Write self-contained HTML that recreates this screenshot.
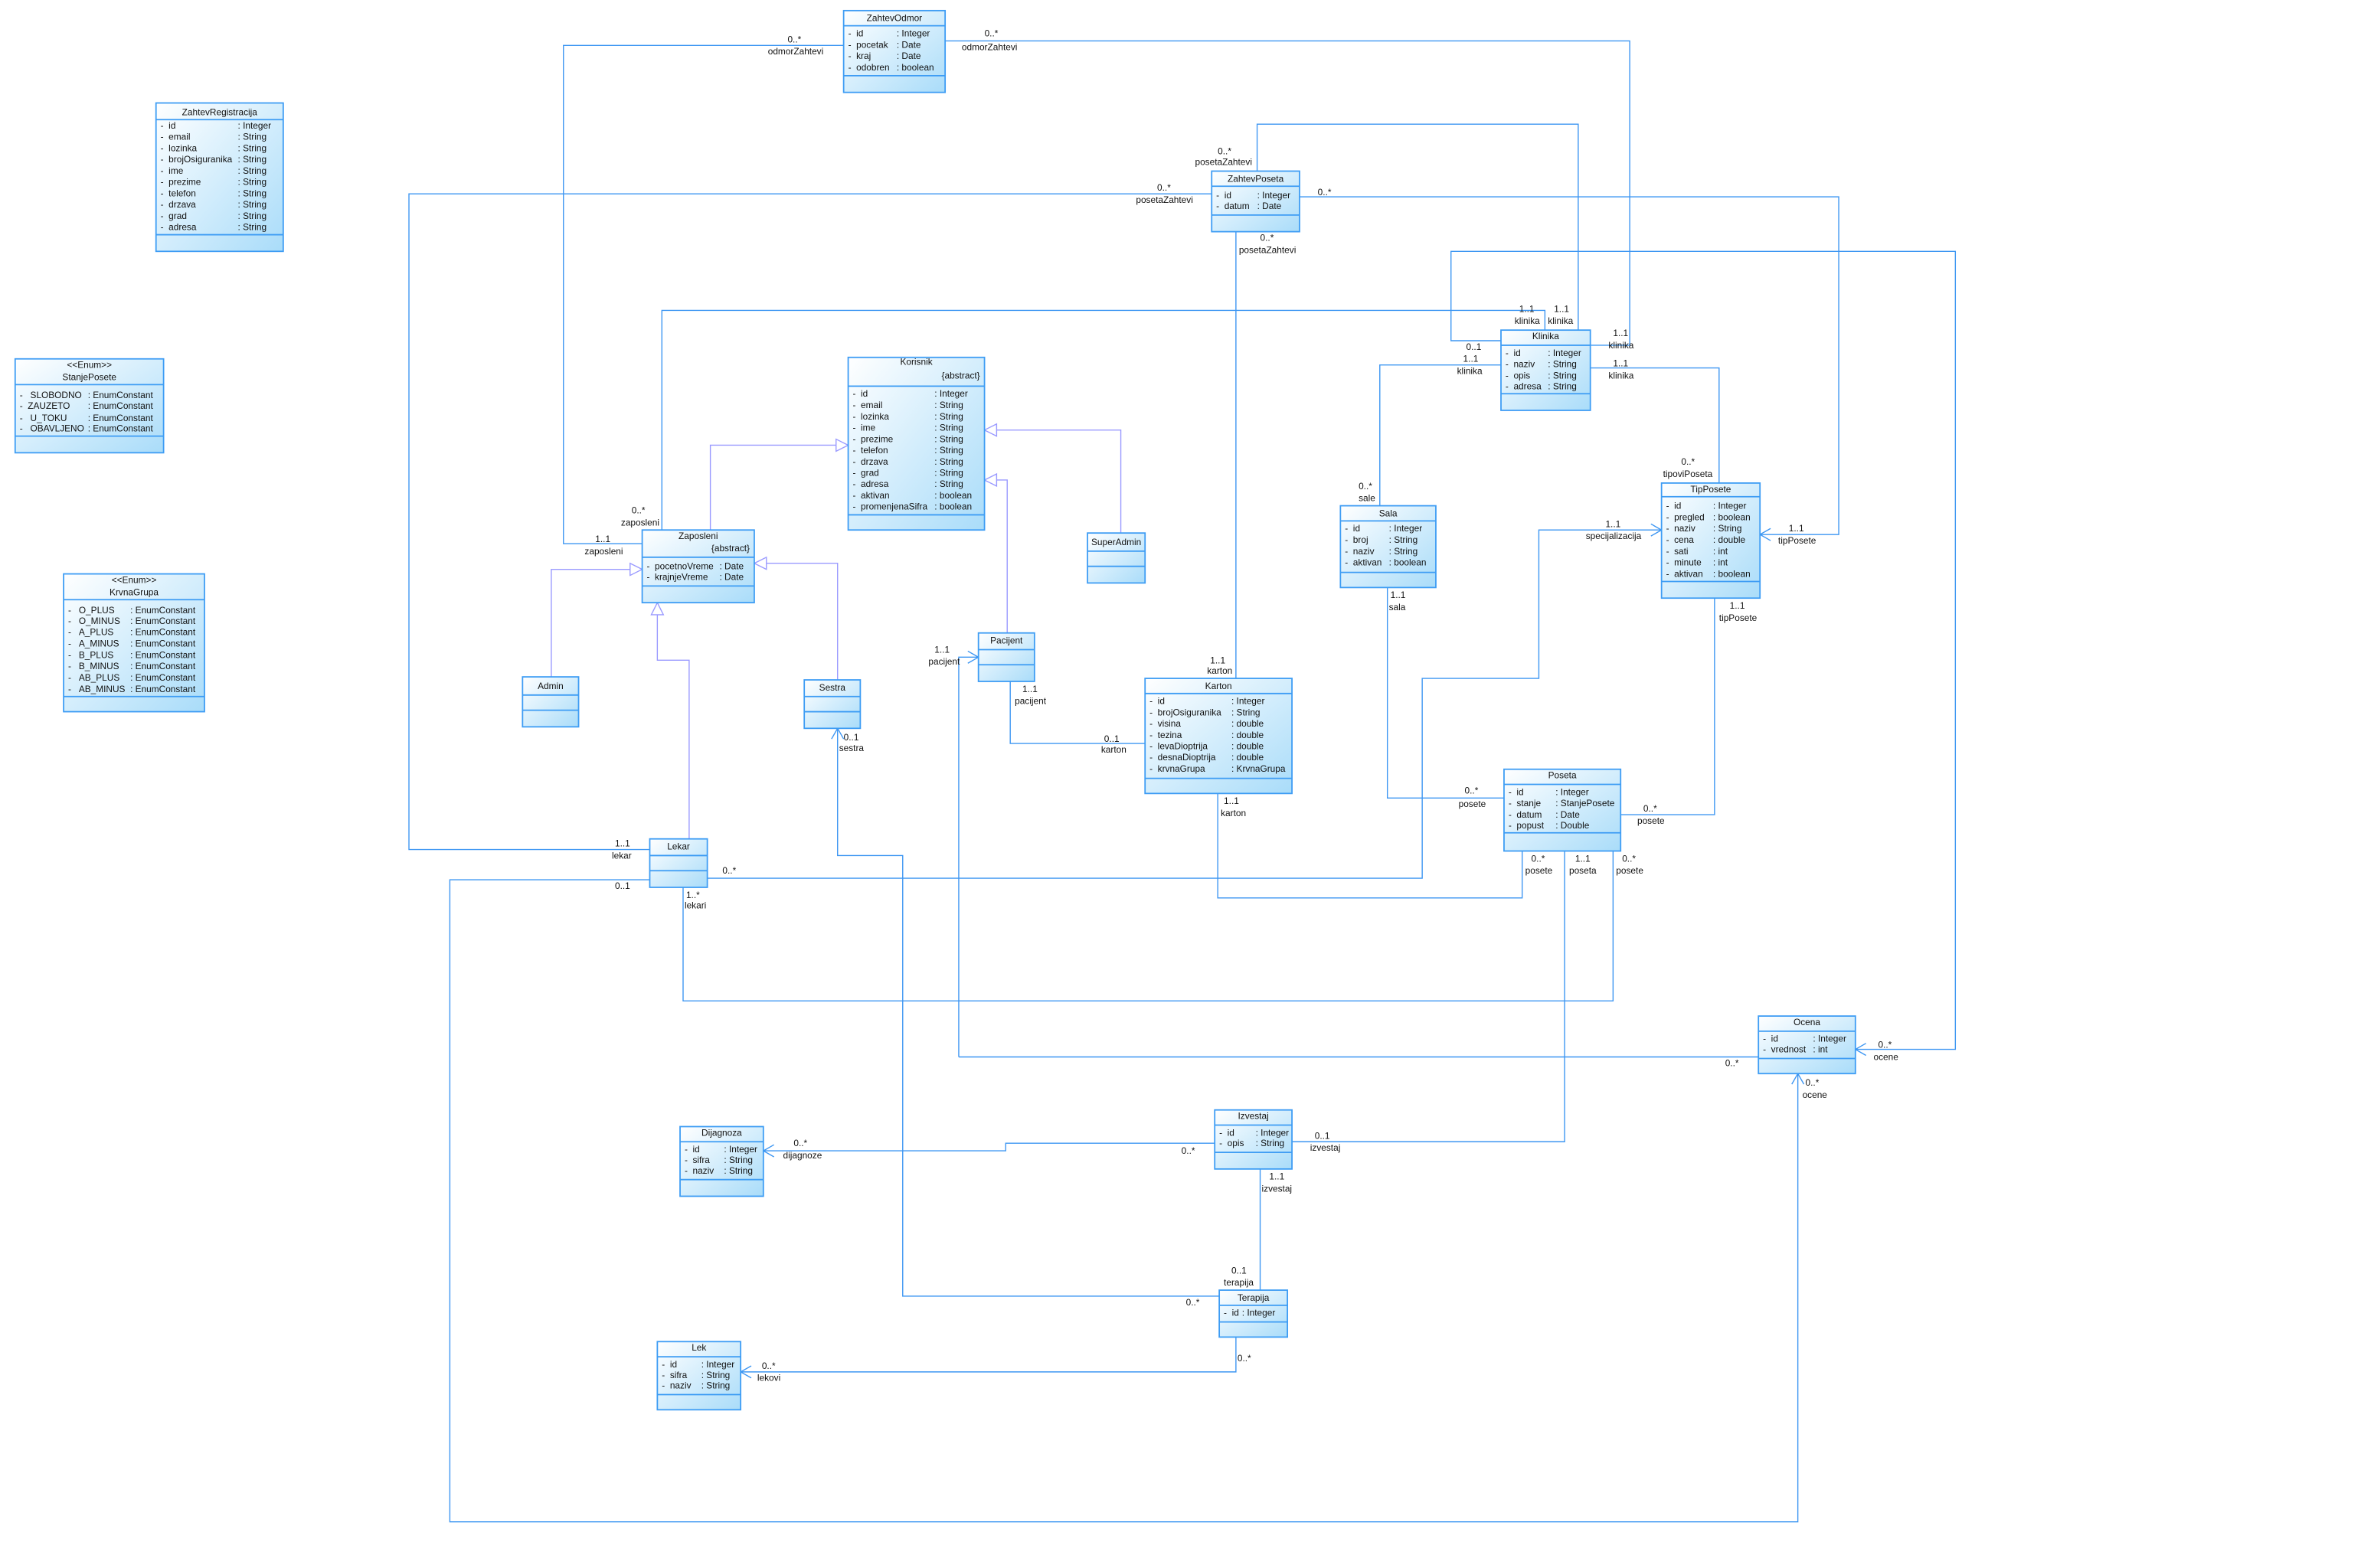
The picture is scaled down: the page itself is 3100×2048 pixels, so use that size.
<!DOCTYPE html>
<html><head><meta charset="utf-8"><style>
html,body{margin:0;padding:0;background:#fff;}
svg{display:block;}
text{font-family:"Liberation Sans",sans-serif;font-size:6px;fill:#111;}
.t{text-anchor:middle;}
.c rect{fill:url(#g);stroke:#3d9cf4;stroke-width:0.9;}
.c line{stroke:#3d9cf4;stroke-width:0.9;}
.a{fill:none;stroke:#3d96f2;stroke-width:0.7;}
.gn{fill:none;stroke:#9a9aff;stroke-width:0.7;}
.tri{fill:#fff;stroke:#9a9aff;stroke-width:0.7;}
.ar{fill:none;stroke:#3d96f2;stroke-width:0.7;}
</style></head><body>
<svg width="3100" height="2048" viewBox="0 0 1567.4 1035.5" preserveAspectRatio="none" xmlns="http://www.w3.org/2000/svg">
<defs><linearGradient id="g" x1="0" y1="0" x2="1" y2="1"><stop offset="0" stop-color="#ffffff"/><stop offset="1" stop-color="#a9dcf9"/></linearGradient></defs>

<polyline class="gn" points="469,350 469,294 560,294"/><polygon class="tri" points="560,294 552,290 552,298"/>
<polyline class="gn" points="740,352 740,284 650,284"/><polygon class="tri" points="650,284 658,280 658,288"/>
<polyline class="gn" points="665,418 665,317 650,317"/><polygon class="tri" points="650,317 658,313 658,321"/>
<polyline class="gn" points="364,447 364,376 424,376"/><polygon class="tri" points="424,376 416,372 416,380"/>
<polyline class="gn" points="553,449 553,372 498,372"/><polygon class="tri" points="498,372 506,368 506,376"/>
<polyline class="gn" points="455,554 455,436 434,436 434,398"/><polygon class="tri" points="434,398 430,406 438,406"/>

<polyline class="a" points="557,30 372,30 372,359 424,359"/>
<polyline class="a" points="624,27 1076,27 1076,228 1050,228"/>
<polyline class="a" points="437,350 437,205 1020,205 1020,218"/>
<polyline class="a" points="830,113 830,82 1042,82 1042,218"/>
<polyline class="a" points="800,128 270,128 270,561 429,561"/>
<polyline class="a" points="858,130 1214,130 1214,353 1162,353"/><polyline class="ar" points="1169,349 1162,353 1169,357"/>
<polyline class="a" points="816,153 816,448"/>
<polyline class="a" points="991,225 958,225 958,166 1291,166 1291,693 1225,693"/><polyline class="ar" points="1232,689 1225,693 1232,697"/>
<polyline class="a" points="991,241 911,241 911,334"/>
<polyline class="a" points="1050,243 1135,243 1135,319"/>
<polyline class="a" points="467,580 939,580 939,448 1016,448 1016,350 1097,350"/><polyline class="ar" points="1090,346 1097,350 1090,354"/>
<polyline class="a" points="429,581 297,581 297,1005 1187,1005 1187,709"/><polyline class="ar" points="1183,716 1187,709 1191,716"/>
<polyline class="a" points="451,586 451,661 1065,661 1065,562"/>
<polyline class="a" points="633,698 633,434 646,434"/><polyline class="ar" points="639,430 646,434 639,438"/>
<polyline class="a" points="633,698 1161,698"/>
<polyline class="a" points="667,450 667,491 756,491"/>
<polyline class="a" points="804,524 804,593 1005,593 1005,562"/>
<polyline class="a" points="916,388 916,527 993,527"/>
<polyline class="a" points="1132,395 1132,538 1070,538"/>
<polyline class="a" points="1033,562 1033,754 853,754"/>
<polyline class="a" points="802,755 664,755 664,760 504,760"/><polyline class="ar" points="511,756 504,760 511,764"/>
<polyline class="a" points="832,772 832,852"/>
<polyline class="a" points="805,856 596,856 596,565 553,565 553,481"/><polyline class="ar" points="549,488 553,481 557,488"/>
<polyline class="a" points="816,883 816,906 489,906"/><polyline class="ar" points="496,902 489,906 496,910"/>

<text x="520" y="28">0..*</text><text x="507" y="36">odmorZahtevi</text>
<text x="393" y="358">1..1</text><text x="386" y="366">zaposleni</text>
<text x="650" y="24">0..*</text><text x="635" y="33">odmorZahtevi</text>
<text x="1065" y="222">1..1</text><text x="1062" y="230">klinika</text>
<text x="417" y="339">0..*</text><text x="410" y="347">zaposleni</text>
<text x="1003" y="206">1..1</text><text x="1000" y="214">klinika</text>
<text x="1026" y="206">1..1</text><text x="1022" y="214">klinika</text>
<text x="804" y="102">0..*</text><text x="789" y="109">posetaZahtevi</text>
<text x="764" y="126">0..*</text><text x="750" y="134">posetaZahtevi</text>
<text x="406" y="559">1..1</text><text x="404" y="567">lekar</text>
<text x="870" y="129">0..*</text>
<text x="1181" y="351">1..1</text><text x="1174" y="359">tipPosete</text>
<text x="832" y="159">0..*</text><text x="818" y="167">posetaZahtevi</text>
<text x="799" y="438">1..1</text><text x="797" y="445">karton</text>
<text x="968" y="231">0..1</text>
<text x="1240" y="692">0..*</text><text x="1237" y="700">ocene</text>
<text x="966" y="239">1..1</text><text x="962" y="247">klinika</text>
<text x="897" y="323">0..*</text><text x="897" y="331">sale</text>
<text x="1065" y="242">1..1</text><text x="1062" y="250">klinika</text>
<text x="1110" y="307">0..*</text><text x="1098" y="315">tipoviPoseta</text>
<text x="477" y="577">0..*</text>
<text x="1060" y="348">1..1</text><text x="1047" y="356">specijalizacija</text>
<text x="406" y="587">0..1</text>
<text x="1192" y="717">0..*</text><text x="1190" y="725">ocene</text>
<text x="453" y="593">1..*</text><text x="452" y="600">lekari</text>
<text x="1071" y="569">0..*</text><text x="1067" y="577">posete</text>
<text x="617" y="431">1..1</text><text x="613" y="439">pacijent</text>
<text x="1139" y="704">0..*</text>
<text x="675" y="457">1..1</text><text x="670" y="465">pacijent</text>
<text x="729" y="490">0..1</text><text x="727" y="497">karton</text>
<text x="808" y="531">1..1</text><text x="806" y="539">karton</text>
<text x="1011" y="569">0..*</text><text x="1007" y="577">posete</text>
<text x="918" y="395">1..1</text><text x="917" y="403">sala</text>
<text x="967" y="524">0..*</text><text x="963" y="533">posete</text>
<text x="1142" y="402">1..1</text><text x="1135" y="410">tipPosete</text>
<text x="1085" y="536">0..*</text><text x="1081" y="544">posete</text>
<text x="1040" y="569">1..1</text><text x="1036" y="577">poseta</text>
<text x="868" y="752">0..1</text><text x="865" y="760">izvestaj</text>
<text x="780" y="762">0..*</text>
<text x="524" y="757">0..*</text><text x="517" y="765">dijagnoze</text>
<text x="838" y="779">1..1</text><text x="833" y="787">izvestaj</text>
<text x="813" y="841">0..1</text><text x="808" y="849">terapija</text>
<text x="557" y="489">0..1</text><text x="554" y="496">sestra</text>
<text x="783" y="862">0..*</text>
<text x="817" y="899">0..*</text>
<text x="503" y="904">0..*</text><text x="500" y="912">lekovi</text>

<g class="c"><rect x="557" y="7" width="67" height="54"/><line x1="557" y1="17" x2="624" y2="17"/><line x1="557" y1="50" x2="624" y2="50"/></g>
<text class="t" x="590.5" y="14">ZahtevOdmor</text>
<text x="560" y="24">-&#160;&#160;id</text><text x="592" y="24">: Integer</text>
<text x="560" y="31.5">-&#160;&#160;pocetak</text><text x="592" y="31.5">: Date</text>
<text x="560" y="39">-&#160;&#160;kraj</text><text x="592" y="39">: Date</text>
<text x="560" y="46.5">-&#160;&#160;odobren</text><text x="592" y="46.5">: boolean</text>

<g class="c"><rect x="103" y="68" width="84" height="98"/><line x1="103" y1="79" x2="187" y2="79"/><line x1="103" y1="155" x2="187" y2="155"/></g>
<text class="t" x="145" y="76">ZahtevRegistracija</text>
<text x="106" y="85">-&#160;&#160;id</text><text x="157" y="85">: Integer</text>
<text x="106" y="92.4">-&#160;&#160;email</text><text x="157" y="92.4">: String</text>
<text x="106" y="99.9">-&#160;&#160;lozinka</text><text x="157" y="99.9">: String</text>
<text x="106" y="107.3">-&#160;&#160;brojOsiguranika</text><text x="157" y="107.3">: String</text>
<text x="106" y="114.8">-&#160;&#160;ime</text><text x="157" y="114.8">: String</text>
<text x="106" y="122.2">-&#160;&#160;prezime</text><text x="157" y="122.2">: String</text>
<text x="106" y="129.7">-&#160;&#160;telefon</text><text x="157" y="129.7">: String</text>
<text x="106" y="137.1">-&#160;&#160;drzava</text><text x="157" y="137.1">: String</text>
<text x="106" y="144.6">-&#160;&#160;grad</text><text x="157" y="144.6">: String</text>
<text x="106" y="152">-&#160;&#160;adresa</text><text x="157" y="152">: String</text>

<g class="c"><rect x="10" y="237" width="98" height="62"/><line x1="10" y1="254" x2="108" y2="254"/><line x1="10" y1="288" x2="108" y2="288"/></g>
<text class="t" x="59" y="243">&lt;&lt;Enum&gt;&gt;</text><text class="t" x="59" y="251">StanjePosete</text>
<text x="13" y="263">-&#160;&#160;&#160;SLOBODNO</text><text x="58" y="263">: EnumConstant</text>
<text x="13" y="270">-&#160;&#160;ZAUZETO</text><text x="58" y="270">: EnumConstant</text>
<text x="13" y="278">-&#160;&#160;&#160;U_TOKU</text><text x="58" y="278">: EnumConstant</text>
<text x="13" y="285">-&#160;&#160;&#160;OBAVLJENO</text><text x="58" y="285">: EnumConstant</text>

<g class="c"><rect x="42" y="379" width="93" height="91"/><line x1="42" y1="396" x2="135" y2="396"/><line x1="42" y1="460" x2="135" y2="460"/></g>
<text class="t" x="88.5" y="385">&lt;&lt;Enum&gt;&gt;</text><text class="t" x="88.5" y="393">KrvnaGrupa</text>
<text x="45" y="405">-&#160;&#160;&#160;O_PLUS</text><text x="86" y="405">: EnumConstant</text>
<text x="45" y="412">-&#160;&#160;&#160;O_MINUS</text><text x="86" y="412">: EnumConstant</text>
<text x="45" y="419.5">-&#160;&#160;&#160;A_PLUS</text><text x="86" y="419.5">: EnumConstant</text>
<text x="45" y="427">-&#160;&#160;&#160;A_MINUS</text><text x="86" y="427">: EnumConstant</text>
<text x="45" y="434.5">-&#160;&#160;&#160;B_PLUS</text><text x="86" y="434.5">: EnumConstant</text>
<text x="45" y="442">-&#160;&#160;&#160;B_MINUS</text><text x="86" y="442">: EnumConstant</text>
<text x="45" y="449.5">-&#160;&#160;&#160;AB_PLUS</text><text x="86" y="449.5">: EnumConstant</text>
<text x="45" y="457">-&#160;&#160;&#160;AB_MINUS</text><text x="86" y="457">: EnumConstant</text>

<g class="c"><rect x="560" y="236" width="90" height="114"/><line x1="560" y1="255" x2="650" y2="255"/><line x1="560" y1="340" x2="650" y2="340"/></g>
<text class="t" x="605" y="241">Korisnik</text><text x="647" y="250" text-anchor="end">{abstract}</text>
<text x="563" y="262">-&#160;&#160;id</text><text x="617" y="262">: Integer</text>
<text x="563" y="269.5">-&#160;&#160;email</text><text x="617" y="269.5">: String</text>
<text x="563" y="277">-&#160;&#160;lozinka</text><text x="617" y="277">: String</text>
<text x="563" y="284.4">-&#160;&#160;ime</text><text x="617" y="284.4">: String</text>
<text x="563" y="291.9">-&#160;&#160;prezime</text><text x="617" y="291.9">: String</text>
<text x="563" y="299.3">-&#160;&#160;telefon</text><text x="617" y="299.3">: String</text>
<text x="563" y="306.8">-&#160;&#160;drzava</text><text x="617" y="306.8">: String</text>
<text x="563" y="314.2">-&#160;&#160;grad</text><text x="617" y="314.2">: String</text>
<text x="563" y="321.7">-&#160;&#160;adresa</text><text x="617" y="321.7">: String</text>
<text x="563" y="329.1">-&#160;&#160;aktivan</text><text x="617" y="329.1">: boolean</text>
<text x="563" y="336.6">-&#160;&#160;promenjenaSifra</text><text x="617" y="336.6">: boolean</text>

<g class="c"><rect x="424" y="350" width="74" height="48"/><line x1="424" y1="368" x2="498" y2="368"/><line x1="424" y1="387" x2="498" y2="387"/></g>
<text class="t" x="461" y="356">Zaposleni</text><text x="495" y="364" text-anchor="end">{abstract}</text>
<text x="427" y="376">-&#160;&#160;pocetnoVreme</text><text x="475" y="376">: Date</text>
<text x="427" y="383">-&#160;&#160;krajnjeVreme</text><text x="475" y="383">: Date</text>

<g class="c"><rect x="718" y="352" width="38" height="33"/><line x1="718" y1="364" x2="756" y2="364"/><line x1="718" y1="374" x2="756" y2="374"/></g>
<text class="t" x="737" y="360">SuperAdmin</text>
<g class="c"><rect x="345" y="447" width="37" height="33"/><line x1="345" y1="459" x2="382" y2="459"/><line x1="345" y1="469" x2="382" y2="469"/></g>
<text class="t" x="363.5" y="455">Admin</text>
<g class="c"><rect x="531" y="449" width="37" height="32"/><line x1="531" y1="460" x2="568" y2="460"/><line x1="531" y1="470" x2="568" y2="470"/></g>
<text class="t" x="549.5" y="456">Sestra</text>
<g class="c"><rect x="646" y="418" width="37" height="32"/><line x1="646" y1="429" x2="683" y2="429"/><line x1="646" y1="439" x2="683" y2="439"/></g>
<text class="t" x="664.5" y="425">Pacijent</text>
<g class="c"><rect x="429" y="554" width="38" height="32"/><line x1="429" y1="565" x2="467" y2="565"/><line x1="429" y1="575" x2="467" y2="575"/></g>
<text class="t" x="448" y="561">Lekar</text>

<g class="c"><rect x="756" y="448" width="97" height="76"/><line x1="756" y1="458" x2="853" y2="458"/><line x1="756" y1="514" x2="853" y2="514"/></g>
<text class="t" x="804.5" y="455">Karton</text>
<text x="759" y="465">-&#160;&#160;id</text><text x="813" y="465">: Integer</text>
<text x="759" y="472.4">-&#160;&#160;brojOsiguranika</text><text x="813" y="472.4">: String</text>
<text x="759" y="479.9">-&#160;&#160;visina</text><text x="813" y="479.9">: double</text>
<text x="759" y="487.3">-&#160;&#160;tezina</text><text x="813" y="487.3">: double</text>
<text x="759" y="494.8">-&#160;&#160;levaDioptrija</text><text x="813" y="494.8">: double</text>
<text x="759" y="502.2">-&#160;&#160;desnaDioptrija</text><text x="813" y="502.2">: double</text>
<text x="759" y="509.7">-&#160;&#160;krvnaGrupa</text><text x="813" y="509.7">: KrvnaGrupa</text>

<g class="c"><rect x="800" y="113" width="58" height="40"/><line x1="800" y1="123" x2="858" y2="123"/><line x1="800" y1="142" x2="858" y2="142"/></g>
<text class="t" x="829" y="120">ZahtevPoseta</text>
<text x="803" y="131">-&#160;&#160;id</text><text x="830" y="131">: Integer</text>
<text x="803" y="138">-&#160;&#160;datum</text><text x="830" y="138">: Date</text>

<g class="c"><rect x="991" y="218" width="59" height="53"/><line x1="991" y1="228" x2="1050" y2="228"/><line x1="991" y1="260" x2="1050" y2="260"/></g>
<text class="t" x="1020.5" y="224">Klinika</text>
<text x="994" y="235">-&#160;&#160;id</text><text x="1022" y="235">: Integer</text>
<text x="994" y="242.5">-&#160;&#160;naziv</text><text x="1022" y="242.5">: String</text>
<text x="994" y="250">-&#160;&#160;opis</text><text x="1022" y="250">: String</text>
<text x="994" y="257">-&#160;&#160;adresa</text><text x="1022" y="257">: String</text>

<g class="c"><rect x="885" y="334" width="63" height="54"/><line x1="885" y1="344" x2="948" y2="344"/><line x1="885" y1="378" x2="948" y2="378"/></g>
<text class="t" x="916.5" y="341">Sala</text>
<text x="888" y="351">-&#160;&#160;id</text><text x="917" y="351">: Integer</text>
<text x="888" y="358.5">-&#160;&#160;broj</text><text x="917" y="358.5">: String</text>
<text x="888" y="366">-&#160;&#160;naziv</text><text x="917" y="366">: String</text>
<text x="888" y="373.5">-&#160;&#160;aktivan</text><text x="917" y="373.5">: boolean</text>

<g class="c"><rect x="1097" y="319" width="65" height="76"/><line x1="1097" y1="328" x2="1162" y2="328"/><line x1="1097" y1="384" x2="1162" y2="384"/></g>
<text class="t" x="1129.5" y="325">TipPosete</text>
<text x="1100" y="336">-&#160;&#160;id</text><text x="1131" y="336">: Integer</text>
<text x="1100" y="343.5">-&#160;&#160;pregled</text><text x="1131" y="343.5">: boolean</text>
<text x="1100" y="351">-&#160;&#160;naziv</text><text x="1131" y="351">: String</text>
<text x="1100" y="358.5">-&#160;&#160;cena</text><text x="1131" y="358.5">: double</text>
<text x="1100" y="366">-&#160;&#160;sati</text><text x="1131" y="366">: int</text>
<text x="1100" y="373.5">-&#160;&#160;minute</text><text x="1131" y="373.5">: int</text>
<text x="1100" y="381">-&#160;&#160;aktivan</text><text x="1131" y="381">: boolean</text>

<g class="c"><rect x="993" y="508" width="77" height="54"/><line x1="993" y1="518" x2="1070" y2="518"/><line x1="993" y1="550" x2="1070" y2="550"/></g>
<text class="t" x="1031.5" y="514">Poseta</text>
<text x="996" y="525">-&#160;&#160;id</text><text x="1027" y="525">: Integer</text>
<text x="996" y="532.5">-&#160;&#160;stanje</text><text x="1027" y="532.5">: StanjePosete</text>
<text x="996" y="540">-&#160;&#160;datum</text><text x="1027" y="540">: Date</text>
<text x="996" y="547">-&#160;&#160;popust</text><text x="1027" y="547">: Double</text>

<g class="c"><rect x="1161" y="671" width="64" height="38"/><line x1="1161" y1="681" x2="1225" y2="681"/><line x1="1161" y1="699" x2="1225" y2="699"/></g>
<text class="t" x="1193" y="677">Ocena</text>
<text x="1164" y="688">-&#160;&#160;id</text><text x="1197" y="688">: Integer</text>
<text x="1164" y="695">-&#160;&#160;vrednost</text><text x="1197" y="695">: int</text>

<g class="c"><rect x="802" y="733" width="51" height="39"/><line x1="802" y1="743" x2="853" y2="743"/><line x1="802" y1="761" x2="853" y2="761"/></g>
<text class="t" x="827.5" y="739">Izvestaj</text>
<text x="805" y="750">-&#160;&#160;id</text><text x="829" y="750">: Integer</text>
<text x="805" y="757">-&#160;&#160;opis</text><text x="829" y="757">: String</text>

<g class="c"><rect x="449" y="744" width="55" height="46"/><line x1="449" y1="754" x2="504" y2="754"/><line x1="449" y1="779" x2="504" y2="779"/></g>
<text class="t" x="476.5" y="750">Dijagnoza</text>
<text x="452" y="761">-&#160;&#160;id</text><text x="478" y="761">: Integer</text>
<text x="452" y="768">-&#160;&#160;sifra</text><text x="478" y="768">: String</text>
<text x="452" y="775">-&#160;&#160;naziv</text><text x="478" y="775">: String</text>

<g class="c"><rect x="805" y="852" width="45" height="31"/><line x1="805" y1="862" x2="850" y2="862"/><line x1="805" y1="873" x2="850" y2="873"/></g>
<text class="t" x="827.5" y="859">Terapija</text>
<text x="808" y="869">-&#160;&#160;id</text><text x="820" y="869">: Integer</text>

<g class="c"><rect x="434" y="886" width="55" height="45"/><line x1="434" y1="896" x2="489" y2="896"/><line x1="434" y1="921" x2="489" y2="921"/></g>
<text class="t" x="461.5" y="892">Lek</text>
<text x="437" y="903">-&#160;&#160;id</text><text x="463" y="903">: Integer</text>
<text x="437" y="910">-&#160;&#160;sifra</text><text x="463" y="910">: String</text>
<text x="437" y="917">-&#160;&#160;naziv</text><text x="463" y="917">: String</text>
</svg>
</body></html>
